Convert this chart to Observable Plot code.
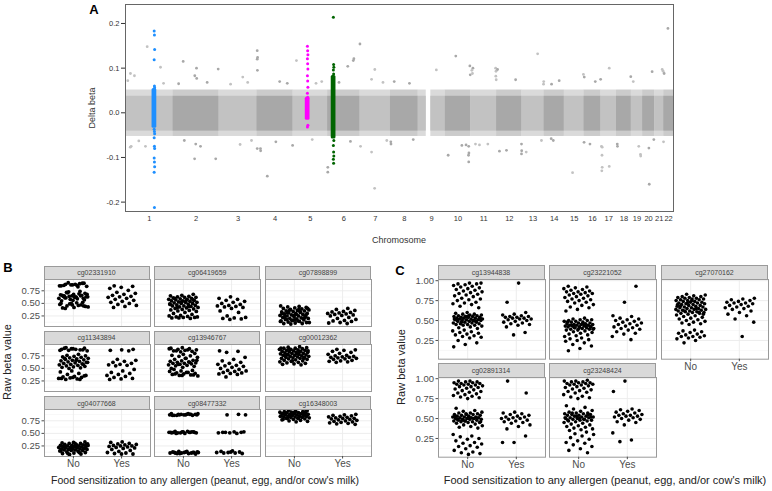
<!DOCTYPE html>
<html><head><meta charset="utf-8">
<script src="https://cdn.jsdelivr.net/npm/d3@7"></script>
<script src="https://cdn.jsdelivr.net/npm/@observablehq/plot@0.6"></script>
<style>
body{margin:0;background:#fff;font-family:"Liberation Sans",Arial,Helvetica,sans-serif;}
#fig{position:relative;width:772px;height:491px;overflow:hidden;background:#fff;}
.t{position:absolute;white-space:nowrap;line-height:1;transform-origin:0 0;}
.strip{position:absolute;box-sizing:border-box;background:#d9d9d9;border:1px solid #9a9a9a;font-size:7px;color:#444;text-align:center;display:flex;align-items:center;justify-content:center;}
.p{position:absolute;}
</style></head><body><div id="fig"></div>
<script>
// ---------------- DATA: panel A (Manhattan) ----------------
const chromosomes = ["1","2","3","4","5","6","7","8","9","10","11","12","13","14","15","16","17","18","19","20","21","22"];
const chromLengthMb = [249.25,243.2,198.0,191.15,180.9,171.1,159.1,146.4,141.2,135.5,135.0,133.85,115.2,107.35,102.5,90.35,81.2,78.1,59.1,63.0,48.1,51.3];
const chromGaps = [[9, 42, 66]]; // chr, startMb, endMb without probes
const bandCoreLo = -0.041, bandCoreHi = 0.037;
const bandFringeLo = -0.053, bandFringeHi = 0.051;
// outliers: [chr, positionMb, delta beta]
const outliers = [
 [1,114,0.148],[1,184,0.102],[1,26,0.088],[1,47,0.083],[1,12,0.072],[1,200,0.066],[2,54,0.115],[2,124,0.10],[2,115,0.083],[2,125,0.077],[2,238,0.098],[2,180,0.068],[2,30,0.065],
 [3,124,0.08],[3,150,0.068],[3,60,0.064],[4,2,0.139],[4,2,0.12],[4,4,0.124],[4,3,0.095],[4,120,0.07],[4,160,0.066],[5,17,0.117],[5,120,0.066],[5,150,0.07],
 [6,170,0.154],[6,106,0.104],[6,135,0.117],[6,138,0.121],[6,60,0.068],[7,77,0.097],[7,60,0.075],[7,120,0.068],[8,20,0.07],[8,100,0.066],
 [9,95,0.096],[10,56,0.127],[10,146,0.1],[10,130,0.105],[10,132,0.085],[11,5,0.095],[11,8,0.088],[11,130,0.1],[11,132,0.093],[11,131,0.082],[11,133,0.074],
 [12,5,0.097],[12,100,0.074],[13,82,0.132],[13,114,0.07],[13,113,0.064],[14,80,0.072],[14,40,0.064],[15,100,0.086],[16,2,0.08],[16,60,0.07],[17,43,0.1],[16,88,0.075],
 [18,75,0.081],[19,10,0.07],[20,50,0.092],[21,40,0.097],[21,45,0.093],[22,2,0.088],[22,22,0.189],
 [1,30,-0.075],[1,25,-0.077],[1,105,-0.075],[1,70,-0.063],[2,145,-0.075],[2,114,-0.103],[2,120,-0.07],[2,225,-0.103],[2,60,-0.062],[3,110,-0.071],[3,170,-0.062],
 [4,2,-0.08],[4,19,-0.08],[4,20,-0.085],[4,55,-0.142],[4,100,-0.065],[4,188,-0.073],[5,100,-0.06],[6,1,-0.122],[6,1,-0.133],[6,120,-0.064],
 [7,60,-0.088],[7,76,-0.169],[7,2,-0.075],[7,140,-0.062],[8,2,-0.065],[8,3,-0.07],[8,120,-0.06],
 [10,16,-0.095],[10,88,-0.073],[10,124,-0.075],[10,125,-0.09],[10,123,-0.095],[10,124,-0.11],[10,110,-0.072],[11,24,-0.07],[11,45,-0.072],[11,89,-0.07],
 [12,15,-0.086],[12,52,-0.084],[12,131,-0.07],[12,132,-0.085],[12,131,-0.092],[13,22,-0.088],[13,102,-0.062],[14,38,-0.058],[14,49,-0.062],[15,43,-0.134],
 [16,1,-0.066],[16,32,-0.07],[17,2,-0.075],[17,6,-0.077],[17,5,-0.095],[17,6,-0.122],[17,4,-0.13],[17,43,-0.12],[18,4,-0.07],[18,5,-0.075],
 [19,48,-0.093],[19,49,-0.097],[19,39,-0.075],[20,35,-0.16],[20,33,-0.079],[20,59,-0.06],[21,47,-0.065]
];
// highlighted loci
const hiChr = [1, 5, 6];
const hiPos = [152, 76, 31.5];
const hiColor = ["#1e8fff", "#ff00ff", "#006400"];
const hiDenseLo = [-0.031, -0.013, -0.055];
const hiDenseHi = [0.051, 0.031, 0.080];
const hiBlue = [0.183,0.174,0.142,0.119,0.06,0.056,-0.037,-0.042,-0.047,-0.056,-0.075,-0.08,-0.101,-0.11,-0.121,-0.133,-0.212];
const hiMagenta = [0.149,0.139,0.130,0.121,0.110,0.098,0.083,0.071,0.057,0.044,0.035,-0.028,-0.032];
const hiGreen = [0.214,0.108,0.102,0.096,0.087,-0.062,-0.073,-0.088,-0.097,-0.104,-0.113];

// ---------------- DATA: panels B and C (raw beta values x100) ----------------
const bNames = ["cg02331910","cg06419659","cg07898899","cg11343894","cg13946767","cg00012362","cg04077668","cg08477332","cg16348003"];
const b_cg02331910_no = [86,88,90,87,85,89,91,84,88,86,90,87,85,83,72,70,68,66,65,64,63,62,61,60,65,67,69,71,63,62,64,66,58,60,59,61,57,56,55,74,73,68,63,65,52,50,48,46,45,44,42,41,47,49,43,51,40,45,47,50];
const b_cg02331910_yes = [85,84,82,80,76,72,70,68,66,64,63,62,60,58,56,54,52,50,48,46,44,42];
const b_cg06419659_no = [68,66,65,64,63,62,62,61,60,59,58,58,57,56,55,55,54,53,52,52,51,50,50,49,48,47,46,45,45,44,43,42,41,40,39,38,37,36,35,34,32,30,28,26,25,24,23,22,22,21,20,21,23,55,60,57,53,48,44,42];
const b_cg06419659_yes = [63,60,58,56,54,52,50,48,46,45,44,43,42,40,35,32,25,22,21,20,19,18];
const b_cg07898899_no = [45,44,43,42,41,40,39,38,37,36,35,35,34,33,32,31,30,30,29,28,27,26,25,25,24,23,22,21,20,20,19,18,17,16,15,14,13,12,11,10,10,9,12,15,18,22,26,30,33,36,40,28,24,20,16,14,38,32,27,17];
const b_cg07898899_yes = [40,38,36,34,33,32,31,30,29,28,27,26,25,22,20,18,16,15,14,12,11,10];
const b_cg11343894_no = [91,90,89,88,87,86,85,88,90,87,89,86,78,76,75,74,73,72,71,70,69,68,67,66,65,64,63,62,61,60,59,58,57,56,55,54,53,52,51,50,62,66,70,58,45,43,40,38,36,34,33,32,31,30,29,28,35,32,30,28];
const b_cg11343894_yes = [88,87,86,85,68,66,64,62,60,58,57,56,55,48,45,42,40,38,36,34,32,30,29,28];
const b_cg13946767_no = [91,90,89,88,87,86,85,84,83,89,87,85,80,78,76,75,74,72,70,68,66,65,64,63,62,61,60,60,59,58,57,56,55,54,52,50,62,58,66,70,48,46,45,44,42,41,40,39,38,37,36,35,42,39,37,36];
const b_cg13946767_yes = [85,84,82,72,68,65,62,60,58,56,55,54,52,50,48,46,45,44,42,41,40,39,38,33];
const b_cg00012362_no = [93,92,91,90,90,89,88,88,87,86,86,85,84,84,83,82,82,81,80,80,79,78,78,77,76,76,75,74,74,73,72,72,71,70,70,69,68,67,66,65,64,63,62,61,60,59,58,57,88,85,80,75,70,65,90,83,77];
const b_cg00012362_yes = [88,87,86,84,82,80,78,76,75,74,73,72,72,71,70,69,68,66,65,64,63,62];
const b_cg04077668_no = [33,32,31,30,30,29,28,28,27,26,26,25,25,24,24,23,23,22,22,21,21,20,20,19,19,18,18,17,17,16,16,15,14,13,12,11,10,9,8,26,24,22,20,18,15,12,10,28,30,25];
const b_cg04077668_yes = [33,32,30,29,28,27,26,25,25,24,23,22,21,20,18,16,14,12,11,10,9,9];
const b_cg08477332_no = [89,88,88,87,87,86,86,88,87,89,86,88,87,86,88,87,89,88,54,53,53,52,52,51,51,50,52,53,51,52,54,50,52,53,51,52,14,13,13,12,12,11,11,10,10,9,12,13,11,10,12,14,11,12];
const b_cg08477332_yes = [88,87,87,53,52,52,51,51,50,52,53,15,14,13,12,12,11,11,10,13];
const b_cg16348003_no = [96,95,94,93,93,92,92,91,91,90,90,89,89,88,88,87,87,86,86,85,85,84,84,83,83,82,82,81,80,80,79,78,77,76,75,74,73,90,88,86,84,82,80,94,92,78];
const b_cg16348003_yes = [88,87,86,85,84,83,82,81,80,80,79,78,77,76,75,74,73,72,71,70,69,68];

const cNames = ["cg13944838","cg23221052","cg27070162","cg02891314","cg23248424"];
const c_cg13944838_no = [97,97,96,96,95,94,93,92,91,90,89,88,87,86,85,84,83,82,81,80,78,77,76,75,73,72,71,70,68,66,60,59,58,58,57,57,56,56,55,55,55,54,54,54,53,53,53,52,52,52,51,51,51,50,50,50,49,49,48,48,47,47,46,46,45,45,44,44,43,42,41,40,55,52,50,48,53,56,51,49,38,37,36,35,34,33,32,31,30,29,28,25,22,20,17];
const c_cg13944838_yes = [97,73,60,58,57,56,55,55,54,54,53,53,52,52,51,50,49,48,47,46,45,44,42,35,32];
const c_cg23221052_no = [93,92,91,90,89,88,87,86,86,85,84,84,83,82,81,80,79,78,77,76,75,74,73,72,70,69,67,66,64,62,53,52,51,51,50,50,49,49,48,48,47,47,46,46,45,45,45,44,44,44,43,43,43,42,42,42,41,41,40,40,39,39,38,38,37,36,35,34,33,32,31,30,46,44,42,40,48,43,41,39,28,27,26,25,24,22,20,18,15,12];
const c_cg23221052_yes = [93,73,56,55,53,52,51,50,49,48,47,46,45,44,43,42,41,40,39,38,36,34,33,30,26];
const c_cg27070162_no = [83,82,81,80,80,79,79,78,78,77,77,76,76,75,75,74,74,73,73,72,72,71,71,70,70,69,69,68,68,67,67,66,66,65,65,64,64,63,63,62,62,61,61,60,60,59,59,58,57,56,55,54,53,52,51,50,49,48,47,46,45,70,65,62,58,75,68,60,72,64,38,37,36,35,34,33,32,31,30,30,29,28,27,25,22];
const c_cg27070162_yes = [78,77,76,75,74,73,72,72,71,70,69,68,67,66,65,64,62,60,58,56,52,48,30];
const c_cg02891314_no = [97,97,96,96,95,95,94,94,93,93,92,92,91,90,90,89,88,87,86,85,84,83,82,81,80,79,78,77,76,75,63,60,59,58,57,57,56,56,55,55,54,54,53,53,52,52,52,51,51,51,50,50,50,49,49,49,48,48,47,47,46,46,45,45,44,43,42,41,40,39,38,55,53,50,48,46,52,49,51,47,30,28,27,25,24,22,20,19,18,16,15,14,12,10,8,7,6,5];
const c_cg02891314_yes = [97,82,58,57,56,55,54,53,52,52,51,50,50,49,48,47,46,45,44,42,40,37,28,20,20];
const c_cg23248424_no = [98,97,97,96,96,95,95,94,94,93,93,92,92,91,90,89,88,87,86,85,84,83,82,80,78,77,76,75,66,64,62,60,59,58,57,57,56,56,55,55,54,54,53,53,52,52,51,51,50,50,49,49,48,48,47,47,46,45,44,43,42,41,40,39,38,37,36,35,55,53,51,49,57,52,50,48,33,31,30,28,26,24,22,20,19,17,15,12,10,7];
const c_cg23248424_yes = [97,84,62,61,60,59,58,57,56,55,54,54,53,53,52,51,50,49,48,46,45,42,32,23,21];

const groupLabels = ["No", "Yes"];
const bYTicks = [0.25, 0.5, 0.75];
const cYTicks = [0.25, 0.5, 0.75, 1.0];
const minorTicks = [0.125, 0.375, 0.625, 0.875];
const xTitle = "Food sensitization to any allergen (peanut, egg, and/or cow's milk)";

// ---------------- DRAWING ----------------
const fig = document.getElementById("fig");
const FONT = '"Liberation Sans", Arial, Helvetica, sans-serif';
function place(el, x, y) { el.style.left = x + "px"; el.style.top = y + "px"; fig.appendChild(el); return el; }
function label(text, x, y, opts = {}) {
  const d = document.createElement("div");
  d.className = "t";
  d.textContent = text;
  d.style.fontSize = (opts.size || 10) + "px";
  d.style.color = opts.color || "#222";
  if (opts.bold) d.style.fontWeight = "bold";
  d.style.transform = opts.rotate ? "rotate(-90deg) translate(-50%,-50%)" : "translate(-50%,-50%)";
  return place(d, x, y);
}

// Panel A
const starts = Array.from(d3.cumsum([0, ...chromLengthMb])).slice(0, chromosomes.length);
const total = d3.sum(chromLengthMb);
const lightGray = "#c2c2c2", darkGray = "#a8a8a8";
const chrColor = c => (c % 2 === 1 ? lightGray : darkGray);
const gpos = (c, mb) => starts[c - 1] + mb;
const segments = [];
chromosomes.forEach((name, i) => {
  const c = i + 1;
  const gaps = chromGaps.filter(g => g[0] === c);
  let s = 0;
  for (const g of gaps) { segments.push({c, s, e: g[1]}); s = g[2]; }
  segments.push({c, s, e: chromLengthMb[i]});
});
const mids = chromosomes.map((n, i) => starts[i] + chromLengthMb[i] / 2);
const midLabel = new Map(mids.map((m, i) => [m, chromosomes[i]]));
const outRows = outliers.map(([c, p, v]) => ({x: gpos(c, p), y: v, fill: chrColor(c)}));
const hiRows = [];
[hiBlue, hiMagenta, hiGreen].forEach((arr, k) => arr.forEach((v, i) => hiRows.push({x: gpos(hiChr[k], hiPos[k]) + ((i % 3) - 1) * 1.2, y: v, fill: hiColor[k]})));
const hiDense = hiChr.map((c, k) => ({x1: gpos(c, hiPos[k] - 4), x2: gpos(c, hiPos[k] + 4), y1: hiDenseLo[k], y2: hiDenseHi[k], fill: hiColor[k]}));
const bandRect = (lo, hi, op) => Plot.rect(segments, {x1: d => gpos(d.c, d.s), x2: d => gpos(d.c, d.e), y1: lo, y2: hi, fill: d => chrColor(d.c), fillOpacity: op});

const plotA = Plot.plot({
  width: 772, height: 250, marginLeft: 125, marginRight: 99, marginTop: 4, marginBottom: 39,
  style: {fontFamily: FONT, fontSize: "7.5px", color: "#333", background: "transparent", overflow: "visible"},
  x: {domain: [0, total], axis: null},
  y: {domain: [-0.221, 0.2425], axis: null},
  marks: [
    bandRect(bandFringeLo, bandFringeHi, 0.6),
    bandRect(bandCoreLo, bandCoreHi, 1),
    Plot.dot(outRows, {x: "x", y: "y", r: 1.4, fill: "fill"}),
    Plot.rect(hiDense, {x1: "x1", x2: "x2", y1: "y1", y2: "y2", fill: "fill", inset: -1.6, rx: 1.5}),
    Plot.dot(hiRows, {x: "x", y: "y", r: 1.5, fill: "fill"}),
    Plot.axisY({ticks: [-0.2, -0.1, 0, 0.1, 0.2], tickFormat: d => d.toFixed(1), tickSize: 4, tickPadding: 2, label: null, fontSize: 7.5}),
    Plot.axisX({ticks: mids, tickFormat: d => midLabel.get(d), tickSize: 0, tickPadding: 4, label: null, fontSize: 7.5}),
    Plot.frame({stroke: "#666"})
  ]
});
plotA.classList.add("p");
place(plotA, 0, 0);
label("A", 94, 9, {size: 13, bold: true, color: "#000"});
label("Delta beta", 92, 108, {size: 9, rotate: true, color: "#333"});
label("Chromosome", 399, 240, {size: 9, color: "#333"});

// facets
const jitter = (i, seed) => ((((i + 1) * 0.6180339887 + seed * 0.2113) % 1) - 0.5) * 0.62;
function facet(name, no, yes, cfg) {
  const {left, top, stripH, panelW, panelH, yDomain, yTicks, showY, showX, seed, r} = cfg;
  const mL = showY ? 40 : 0, mB = showX ? 18 : 0;
  const rows = [
    ...no.map((v, i) => ({x: 1 + jitter(i, seed), y: v / 100})),
    ...yes.map((v, i) => ({x: 2 + jitter(i, seed + 3), y: v / 100}))
  ];
  const marks = [
    Plot.ruleY(minorTicks.filter(t => t > yDomain[0] && t < yDomain[1]), {stroke: "#f4f4f4", strokeWidth: 0.6}),
    Plot.ruleY(yTicks, {stroke: "#ebebeb", strokeWidth: 0.9}),
    Plot.ruleX([1, 2], {stroke: "#ebebeb", strokeWidth: 0.9}),
    Plot.dot(rows, {x: "x", y: "y", r, fill: "#000"}),
    Plot.frame({stroke: "#9a9a9a"})
  ];
  if (showY) marks.push(Plot.axisY({ticks: yTicks, tickFormat: d3.format(".2f"), tickSize: 2.5, tickPadding: 2, label: null, fontSize: 9.5}));
  if (showX) marks.push(Plot.axisX({ticks: [1, 2], tickFormat: d => groupLabels[d - 1], tickSize: 2.5, tickPadding: 1, label: null, fontSize: 10}));
  const svg = Plot.plot({
    width: panelW + mL, height: panelH + mB, marginLeft: mL, marginRight: 0, marginTop: 0, marginBottom: mB,
    style: {fontFamily: FONT, fontSize: "9.5px", color: "#4d4d4d", background: "transparent", overflow: "visible"},
    x: {domain: [0.4, 2.6], axis: null},
    y: {domain: yDomain, axis: null},
    marks
  });
  svg.classList.add("p");
  place(svg, left - mL, top + stripH);
  const s = document.createElement("div");
  s.className = "strip";
  s.textContent = name;
  s.style.width = panelW + "px";
  s.style.height = (stripH + 1) + "px";
  place(s, left, top);
}

// Panel B
const bData = [
  [b_cg02331910_no, b_cg02331910_yes], [b_cg06419659_no, b_cg06419659_yes], [b_cg07898899_no, b_cg07898899_yes],
  [b_cg11343894_no, b_cg11343894_yes], [b_cg13946767_no, b_cg13946767_yes], [b_cg00012362_no, b_cg00012362_yes],
  [b_cg04077668_no, b_cg04077668_yes], [b_cg08477332_no, b_cg08477332_yes], [b_cg16348003_no, b_cg16348003_yes]
];
const bLefts = [43.5, 154.2, 265], bTops = [265.5, 330.8, 396];
bNames.forEach((n, i) => {
  const r = Math.floor(i / 3), c = i % 3;
  facet(n, bData[i][0], bData[i][1], {left: bLefts[c], top: bTops[r], stripH: 13, panelW: 106, panelH: 47,
    yDomain: [0.04, 0.975], yTicks: bYTicks, showY: c === 0, showX: r === 2, seed: i, r: 1.9});
});
label("B", 8, 267, {size: 13, bold: true, color: "#000"});
label("Raw beta value", 7, 362, {size: 11, rotate: true, color: "#222"});
label(xTitle, 205, 480, {size: 10.5, color: "#222"});

// Panel C
const cData = [
  [c_cg13944838_no, c_cg13944838_yes], [c_cg23221052_no, c_cg23221052_yes], [c_cg27070162_no, c_cg27070162_yes],
  [c_cg02891314_no, c_cg02891314_yes], [c_cg23248424_no, c_cg23248424_yes]
];
const cLefts = [437.5, 549, 661], cTops = [265, 363.3];
cNames.forEach((n, i) => {
  const r = Math.floor(i / 3), c = i % 3;
  facet(n, cData[i][0], cData[i][1], {left: cLefts[c], top: cTops[r], stripH: 14, panelW: 107, panelH: 79.7,
    yDomain: [0.015, 1.015], yTicks: cYTicks, showY: c === 0, showX: r === 1 || c === 2, seed: i + 11, r: 1.8});
});
label("C", 400, 270, {size: 13, bold: true, color: "#000"});
label("Raw beta value", 400.5, 367, {size: 11, rotate: true, color: "#222"});
label(xTitle, 605, 480, {size: 11, color: "#222"});
</script>
</body></html>
